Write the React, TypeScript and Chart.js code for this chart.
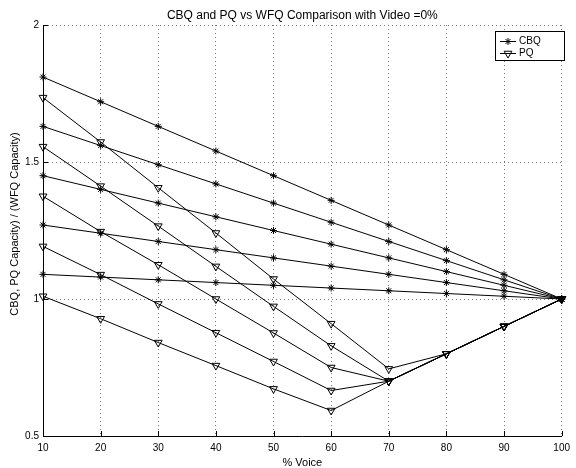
import React, { useEffect, useRef } from 'react';
import { Chart, registerables } from 'chart.js';

Chart.register(...registerables);

const voicePercent = [10, 20, 30, 40, 50, 60, 70, 80, 90, 100];

const cbq1 = [1.81, 1.72, 1.63, 1.54, 1.45, 1.36, 1.27, 1.18, 1.09, 1.0];
const cbq2 = [1.63, 1.56, 1.49, 1.42, 1.35, 1.28, 1.21, 1.14, 1.07, 1.0];
const cbq3 = [1.45, 1.4, 1.35, 1.3, 1.25, 1.2, 1.15, 1.1, 1.05, 1.0];
const cbq4 = [1.27, 1.24, 1.21, 1.18, 1.15, 1.12, 1.09, 1.06, 1.03, 1.0];
const cbq5 = [1.09, 1.08, 1.07, 1.06, 1.05, 1.04, 1.03, 1.02, 1.01, 1.0];

const pq1 = [1.735, 1.573, 1.406, 1.241, 1.073, 0.91, 0.745, 0.8, 0.9, 1.0];
const pq2 = [1.556, 1.412, 1.266, 1.119, 0.973, 0.829, 0.7, 0.8, 0.9, 1.0];
const pq3 = [1.375, 1.246, 1.125, 1.0, 0.876, 0.75, 0.7, 0.8, 0.9, 1.0];
const pq4 = [1.192, 1.089, 0.982, 0.877, 0.772, 0.666, 0.7, 0.8, 0.9, 1.0];
const pq5 = [1.01, 0.928, 0.841, 0.757, 0.672, 0.593, 0.7, 0.8, 0.9, 1.0];

const cbqSeries = [cbq1, cbq2, cbq3, cbq4, cbq5];
const pqSeries = [pq1, pq2, pq3, pq4, pq5];

const xTicks = [10, 20, 30, 40, 50, 60, 70, 80, 90, 100];
const yTicks = [0.5, 1, 1.5, 2];
const yTickLabels = ['0.5', '1', '1.5', '2'];

const titleText = 'CBQ and PQ vs WFQ Comparison with Video =0%';
const xLabel = '% Voice';
const yLabel = 'CBQ, PQ Capacity) / (WFQ Capacity)';
const legendLabels = ['CBQ', 'PQ'];

const FONT = '"Liberation Sans", Arial, Helvetica, sans-serif';

function toPoints(vals: number[]) {
  return vals.map((v, i) => ({ x: voicePercent[i], y: v }));
}

function drawStar(ctx: CanvasRenderingContext2D, x: number, y: number, r: number) {
  ctx.beginPath();
  ctx.moveTo(x - r, y); ctx.lineTo(x + r, y);
  ctx.moveTo(x, y - r); ctx.lineTo(x, y + r);
  const d = r * Math.SQRT1_2;
  ctx.moveTo(x - d, y - d); ctx.lineTo(x + d, y + d);
  ctx.moveTo(x - d, y + d); ctx.lineTo(x + d, y - d);
  ctx.stroke();
}

function drawTriDown(ctx: CanvasRenderingContext2D, x: number, y: number, r: number) {
  const s = r * Math.sin(Math.PI / 3);
  ctx.beginPath();
  ctx.moveTo(x, y + r);
  ctx.lineTo(x - s, y - r / 2);
  ctx.lineTo(x + s, y - r / 2);
  ctx.closePath();
  ctx.stroke();
}

const decor = {
  id: 'decor',
  afterDraw(chart: any) {
    const { ctx, chartArea: a, scales } = chart;
    const xs = scales.x;
    const ys = scales.y;
    ctx.save();
    ctx.strokeStyle = '#000';
    ctx.lineWidth = 1;
    ctx.beginPath();
    for (const v of xTicks) {
      const px = Math.round(xs.getPixelForValue(v)) + 0.5;
      ctx.moveTo(px, a.bottom);
      ctx.lineTo(px, a.bottom - 5);
    }
    for (const v of yTicks) {
      const py = Math.round(ys.getPixelForValue(v)) + 0.5;
      ctx.moveTo(a.left, py);
      ctx.lineTo(a.left + 5, py);
    }
    ctx.stroke();

    ctx.fillStyle = '#000';
    ctx.textAlign = 'center';
    ctx.textBaseline = 'alphabetic';
    ctx.font = '12px ' + FONT;
    ctx.fillText(titleText, (a.left + a.right) / 2, 18.5);
    ctx.font = '11px ' + FONT;
    ctx.fillText(xLabel, (a.left + a.right) / 2, 466);
    ctx.save();
    ctx.translate(18.4, 224);
    ctx.rotate(-Math.PI / 2);
    ctx.fillText(yLabel, 0, 0);
    ctx.restore();

    // legend
    const bx = 495.5, by = 31.5, bw = 69, bh = 29;
    ctx.fillStyle = '#fff';
    ctx.fillRect(bx, by, bw, bh);
    ctx.strokeStyle = '#000';
    ctx.strokeRect(bx, by, bw, bh);
    const rows = [41, 53];
    ctx.beginPath();
    for (const ry of rows) {
      ctx.moveTo(500, ry + 0.5);
      ctx.lineTo(516, ry + 0.5);
    }
    ctx.stroke();
    drawStar(ctx, 508, rows[0] + 0.5, 3.5);
    drawTriDown(ctx, 508, rows[1] + 0.5, 4.5);
    ctx.fillStyle = '#000';
    ctx.font = '10px ' + FONT;
    ctx.textAlign = 'left';
    ctx.textBaseline = 'middle';
    ctx.fillText(legendLabels[0], 519, rows[0] + 0.5);
    ctx.fillText(legendLabels[1], 519, rows[1] + 0.5);
    ctx.restore();
  },
};

export default function App() {
  const ref = useRef<HTMLCanvasElement>(null);

  useEffect(() => {
    if (!ref.current) return;
    const datasets: any[] = [];
    cbqSeries.forEach((s, i) => {
      datasets.push({
        label: 'CBQ ' + (i + 1),
        data: toPoints(s),
        borderColor: '#000',
        borderWidth: 1,
        pointStyle: 'star',
        pointRadius: 3.5,
        pointBorderColor: '#000',
        pointBorderWidth: 1,
        pointBackgroundColor: 'rgba(0,0,0,0)',
        fill: false,
        tension: 0,
        clip: false,
      });
    });
    pqSeries.forEach((s, i) => {
      datasets.push({
        label: 'PQ ' + (i + 1),
        data: toPoints(s),
        borderColor: '#000',
        borderWidth: 1,
        pointStyle: 'triangle',
        pointRotation: 180,
        pointRadius: 4.5,
        pointBorderColor: '#000',
        pointBorderWidth: 1,
        pointBackgroundColor: 'rgba(0,0,0,0)',
        fill: false,
        tension: 0,
        clip: false,
      });
    });

    const chart = new Chart(ref.current, {
      type: 'line',
      data: { datasets },
      options: {
        responsive: false,
        animation: false,
        devicePixelRatio: 1,
        layout: { padding: { left: 0, right: 11, top: 25, bottom: 0 } },
        plugins: {
          legend: { display: false },
          title: { display: false },
          tooltip: { enabled: false },
        },
        scales: {
          x: {
            type: 'linear',
            min: 10,
            max: 100,
            afterBuildTicks: (s: any) => { s.ticks = xTicks.map((v) => ({ value: v })); },
            afterFit: (s: any) => { s.height = 32; },
            grid: { color: '#7a7a7a', drawTicks: false, lineWidth: 1 },
            border: { color: '#000', width: 1, dash: [1, 3] },
            ticks: {
              padding: 6,
              color: '#000',
              autoSkip: false,
              maxRotation: 0,
              font: { family: FONT, size: 10 },
              callback: (v: any) => String(v),
            },
          },
          y: {
            type: 'linear',
            min: 0.5,
            max: 2,
            afterBuildTicks: (s: any) => { s.ticks = yTicks.map((v) => ({ value: v })); },
            afterFit: (s: any) => { s.width = 43; },
            grid: { color: '#7a7a7a', drawTicks: false, lineWidth: 1 },
            border: { color: '#000', width: 1, dash: [1, 3] },
            ticks: {
              padding: 4,
              color: '#000',
              autoSkip: false,
              font: { family: FONT, size: 10 },
              callback: (v: any) => {
                const i = yTicks.indexOf(Number(v));
                return i >= 0 ? yTickLabels[i] : '';
              },
            },
          },
        },
      } as any,
      plugins: [decor],
    });
    return () => chart.destroy();
  }, []);

  return (
    <div style={{ position: 'absolute', left: 0, top: 0, width: 576, height: 468, background: '#fff' }}>
      <canvas ref={ref} width={576} height={468} style={{ display: 'block', width: 576, height: 468 }} />
    </div>
  );
}
